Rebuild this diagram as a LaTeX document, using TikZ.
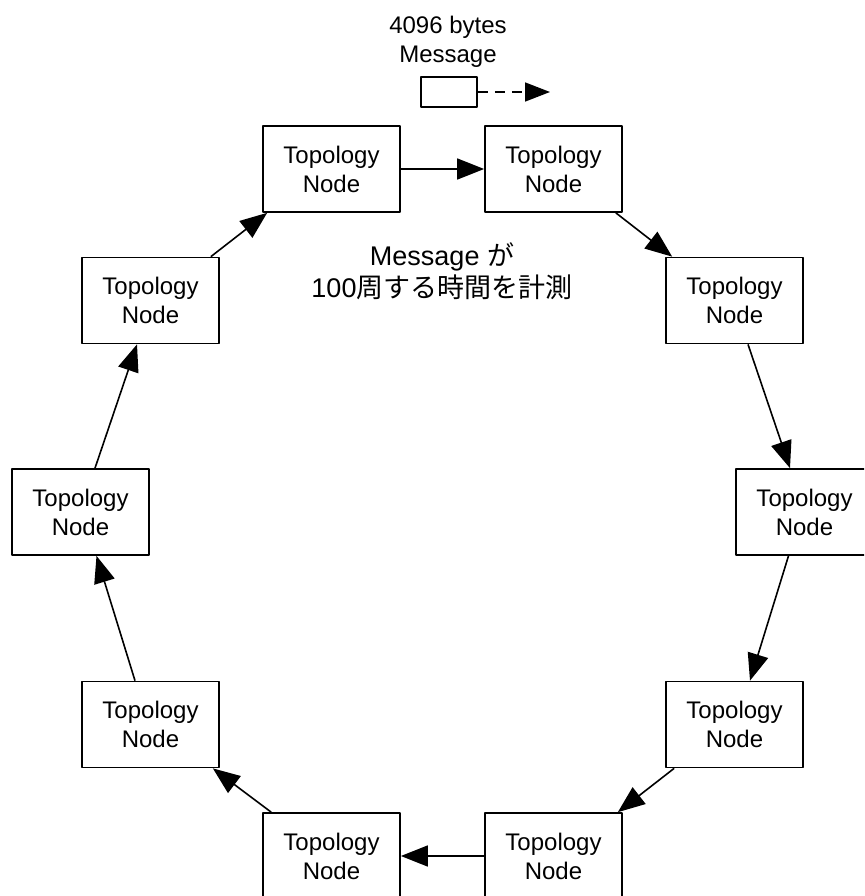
\documentclass[tikz,border=0pt]{standalone}
\usepackage{fontspec}
\setmainfont{Liberation Sans}
\newfontfamily\jp{Noto Sans CJK JP}
\usetikzlibrary{arrows.meta}
\begin{document}
\begin{tikzpicture}[x=1pt, y=-1pt, font=\fontsize{24}{29}\selectfont, line join=round, >={Triangle[length=27pt,width=21pt]},
topo/.style={draw, line width=1.7pt, minimum width=137pt, minimum height=86pt, inner sep=0pt, align=center}]
\def\lw{1.6pt}
\clip (0,0) rectangle (864,896);
% ring of nodes, clockwise from top left
\node[topo] (T1) at (331.5,169) {Topology\\Node};
\node[topo] (T2) at (553.5,169) {Topology\\Node};
\node[topo] (R1) at (734.5,300.5) {Topology\\Node};
\node[topo] (R2) at (804.5,512) {Topology\\Node};
\node[topo] (R3) at (734.5,724.5) {Topology\\Node};
\node[topo] (B1) at (553.5,856) {Topology\\Node};
\node[topo] (B2) at (331.5,856) {Topology\\Node};
\node[topo] (L3) at (150.5,724.5) {Topology\\Node};
\node[topo] (L2) at (80.5,512) {Topology\\Node};
\node[topo] (L1) at (150.5,300.5) {Topology\\Node};
% message
\node[align=center] (lbl) at (448,42) {4096 bytes\\Message};
\node[draw, line width=1.6pt, minimum width=56pt, minimum height=30pt, inner sep=0pt] (msg) at (449,92) {};
\coordinate (msgend) at (550,92);
\draw[->, line width=\lw, dash pattern=on 10pt off 7pt, >={Triangle[length=25pt,width=19pt]}] (msg.east)--(msgend);
\node[font=\fontsize{27}{32}\selectfont, align=center] (cap) at (442,271) {Message {\jp が}\\100{\jp 周する時間を計測}};
% arrows
\draw[->, line width=\lw] ([xshift=-9pt]L1.north east)--([xshift=5pt]T1.south west);
\draw[->, line width=\lw] (T1.east)--(T2.west);
\draw[->, line width=\lw] ([xshift=-7pt]T2.south east)--([xshift=7pt]R1.north west);
\draw[->, line width=\lw] ([xshift=13.5pt]R1.south)--([xshift=-14.5pt]R2.north);
\draw[->, line width=\lw] ([xshift=-16pt]R2.south)--([xshift=15.5pt]R3.north);
\draw[->, line width=\lw] ([xshift=9pt]R3.south west)--([xshift=-5pt]B1.north east);
\draw[->, line width=\lw] (B1.west)--(B2.east);
\draw[->, line width=\lw] ([xshift=9pt]B2.north west)--([xshift=-7pt]L3.south east);
\draw[->, line width=\lw] ([xshift=-15.5pt]L3.north)--([xshift=16pt]L2.south);
\draw[->, line width=\lw] ([xshift=14.5pt]L2.north)--([xshift=-13.5pt]L1.south);
\end{tikzpicture}
\end{document}
